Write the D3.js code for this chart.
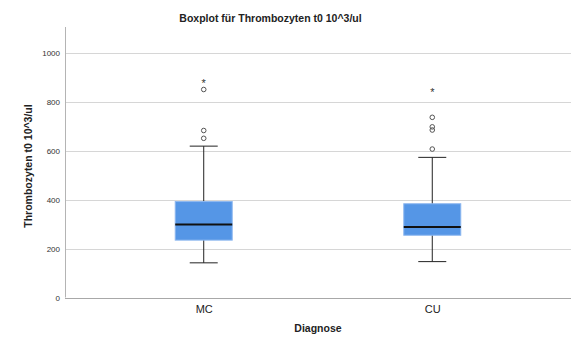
<!DOCTYPE html>
<html>
<head>
<meta charset="utf-8">
<script src="https://cdn.jsdelivr.net/npm/d3@7/dist/d3.min.js"></script>
<style>
  body { margin: 0; background: #fff; }
  svg { display: block; font-family: "Liberation Sans", "DejaVu Sans", sans-serif; }
</style>
</head>
<body>
<svg id="chart" width="571" height="338"></svg>
<script>
// Thrombozyten t0 (10^3/ul) by Diagnose
const categories = ["MC", "CU"];
const whiskerLow  = [142, 147];
const q1          = [235, 255];
const median      = [299, 289];
const q3          = [393, 384];
const whiskerHigh = [620, 574];
// mild outliers (circles) and extreme outliers (stars)
const outliers = [[652, 684, 852], [608, 686, 699, 738]];
const extremes = [[879], [844]];
const yTicks = [0, 200, 400, 600, 800, 1000];

const svg = d3.select("#chart");
const W = 571, H = 338;
const m = { left: 65, right: 0, top: 27, bottom: 40.5 };

const y = d3.scaleLinear().domain([0, 1108]).range([H - m.bottom, m.top]);
const x = d3.scalePoint().domain(categories).range([m.left, W - m.right]).padding(0.607);

// gridlines
svg.append("g").selectAll("line").data(yTicks.filter(d => d > 0)).join("line")
  .attr("x1", m.left).attr("x2", W)
  .attr("y1", d => Math.round(y(d)) + 0.5).attr("y2", d => Math.round(y(d)) + 0.5)
  .attr("stroke", "#d6d6d6").attr("stroke-width", 1);

// y axis
const yAxis = svg.append("g").attr("transform", `translate(${m.left},0)`)
  .call(d3.axisLeft(y).tickValues(yTicks).tickFormat(d3.format("d")).tickSize(0).tickPadding(5));
yAxis.select(".domain").attr("stroke", "#b4b4b4").attr("d", `M0.5,${m.top}V${y(0)}`);
yAxis.selectAll("text").attr("font-size", 8).attr("fill", "#333");

// x axis
const xAxis = svg.append("g").attr("transform", `translate(0,${Math.round(y(0)) + 0.5})`)
  .call(d3.axisBottom(x).tickSize(0).tickPadding(7));
xAxis.select(".domain").attr("stroke", "#a8a8a8").attr("d", `M${m.left},0H${W}`);
xAxis.selectAll("text").attr("font-size", 11).attr("fill", "#222");

// boxes
const boxW = 57, capW = 28;
const g = svg.append("g");
categories.forEach((c, i) => {
  const cx = x(c);
  g.append("line").attr("x1", cx).attr("x2", cx)
    .attr("y1", y(whiskerLow[i])).attr("y2", y(whiskerHigh[i]))
    .attr("stroke", "#222").attr("stroke-width", 1);
  [whiskerLow[i], whiskerHigh[i]].forEach(v => {
    g.append("line").attr("x1", cx - capW / 2).attr("x2", cx + capW / 2)
      .attr("y1", y(v)).attr("y2", y(v)).attr("stroke", "#222").attr("stroke-width", 1);
  });
  g.append("rect").attr("x", cx - boxW / 2).attr("width", boxW)
    .attr("y", y(q3[i])).attr("height", y(q1[i]) - y(q3[i]))
    .attr("fill", "#5596e6").attr("stroke", "#8db7ef").attr("stroke-width", 1);
  g.append("line").attr("x1", cx - boxW / 2).attr("x2", cx + boxW / 2)
    .attr("y1", y(median[i])).attr("y2", y(median[i]))
    .attr("stroke", "#111").attr("stroke-width", 2);
  outliers[i].forEach(v => {
    g.append("circle").attr("cx", cx).attr("cy", y(v)).attr("r", 2.3)
      .attr("fill", "none").attr("stroke", "#555").attr("stroke-width", 1);
  });
  extremes[i].forEach(v => {
    g.append("text").attr("x", cx).attr("y", y(v) + 4.5).attr("text-anchor", "middle")
      .attr("font-size", 11).attr("fill", "#333").text("*");
  });
});

// titles
svg.append("text").attr("x", 270.5).attr("y", 22).attr("text-anchor", "middle")
  .attr("font-size", 10.5).attr("font-weight", "bold").attr("fill", "#222")
  .text("Boxplot für Thrombozyten t0 10^3/ul");
svg.append("text").attr("transform", "translate(32,166) rotate(-90)").attr("text-anchor", "middle")
  .attr("font-size", 10.5).attr("font-weight", "bold").attr("fill", "#222")
  .text("Thrombozyten t0 10^3/ul");
svg.append("text").attr("x", 318).attr("y", 332).attr("text-anchor", "middle")
  .attr("font-size", 10.5).attr("font-weight", "bold").attr("fill", "#222")
  .text("Diagnose");
</script>
</body>
</html>
